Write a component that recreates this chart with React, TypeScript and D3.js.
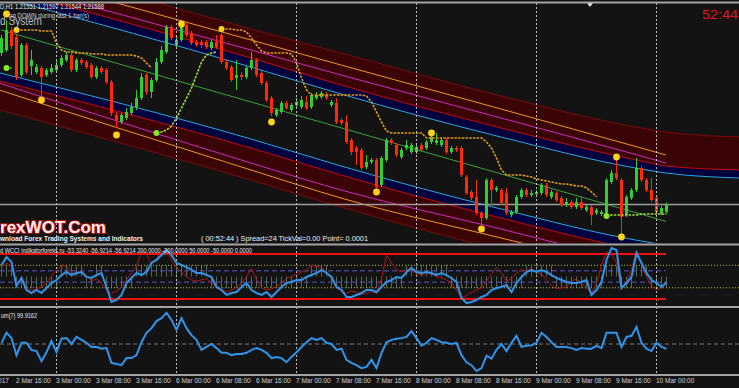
import React, { useEffect, useRef } from 'react';
import * as d3 from 'd3';

// H1 candles, bar 0 = 2 Mar 13:00, last bar = 10 Mar 02:00
const opens = [
  1.22345, 1.22360, 1.22460, 1.22425, 1.22235, 1.22385, 1.22280, 1.22250, 1.22270, 1.22235,
  1.22250, 1.22260, 1.22285, 1.22310, 1.22335, 1.22260, 1.22310, 1.22300, 1.22285, 1.22225,
  1.22270, 1.22260, 1.22200, 1.22035, 1.22000, 1.22020, 1.22045, 1.22075, 1.22120, 1.22235,
  1.22150, 1.22210, 1.22300, 1.22350, 1.22475, 1.22385, 1.22410, 1.22485, 1.22445, 1.22400,
  1.22400, 1.22400, 1.22370, 1.22400, 1.22435, 1.22300, 1.22275, 1.22220, 1.22235, 1.22225,
  1.22270, 1.22310, 1.22245, 1.22195, 1.22120, 1.22035, 1.22050, 1.22095, 1.22060, 1.22085,
  1.22075, 1.22100, 1.22075, 1.22120, 1.22125, 1.22135, 1.22085, 1.22095, 1.22010, 1.22000,
  1.21910, 1.21870, 1.21860, 1.21775, 1.21800, 1.21810, 1.21685, 1.21810, 1.21910, 1.21885,
  1.21825, 1.21870, 1.21850, 1.21850, 1.21885, 1.21870, 1.21900, 1.21895, 1.21885, 1.21910,
  1.21850, 1.21870, 1.21870, 1.21725, 1.21650, 1.21625, 1.21545, 1.21520, 1.21710, 1.21660,
  1.21660, 1.21645, 1.21535, 1.21550, 1.21625, 1.21660, 1.21635, 1.21640, 1.21645, 1.21685,
  1.21625, 1.21645, 1.21620, 1.21585, 1.21600, 1.21575, 1.21600, 1.21560, 1.21575, 1.21545,
  1.21540, 1.21545, 1.21700, 1.21745, 1.21710, 1.21535, 1.21620, 1.21660, 1.21770, 1.21710,
  1.21660, 1.21620, 1.21545, 1.21551,
];
const highs = [
  1.22435, 1.22510, 1.22475, 1.22435, 1.22395, 1.22395, 1.22360, 1.22290, 1.22280, 1.22270,
  1.22290, 1.22310, 1.22335, 1.22350, 1.22345, 1.22320, 1.22320, 1.22310, 1.22295, 1.22280,
  1.22280, 1.22270, 1.22210, 1.22050, 1.22045, 1.22070, 1.22095, 1.22160, 1.22245, 1.22245,
  1.22220, 1.22320, 1.22380, 1.22485, 1.22485, 1.22425, 1.22495, 1.22495, 1.22455, 1.22410,
  1.22410, 1.22410, 1.22410, 1.22435, 1.22445, 1.22310, 1.22285, 1.22310, 1.22250, 1.22280,
  1.22350, 1.22320, 1.22255, 1.22205, 1.22130, 1.22070, 1.22105, 1.22105, 1.22095, 1.22120,
  1.22130, 1.22130, 1.22145, 1.22150, 1.22155, 1.22150, 1.22110, 1.22120, 1.22020, 1.22035,
  1.21920, 1.21880, 1.21870, 1.21835, 1.21820, 1.21820, 1.21830, 1.21920, 1.21920, 1.21895,
  1.21870, 1.21910, 1.21895, 1.21885, 1.21895, 1.21910, 1.21935, 1.21945, 1.21920, 1.21920,
  1.21880, 1.21880, 1.21880, 1.21735, 1.21660, 1.21710, 1.21555, 1.21720, 1.21720, 1.21680,
  1.21670, 1.21670, 1.21560, 1.21635, 1.21670, 1.21670, 1.21660, 1.21660, 1.21695, 1.21695,
  1.21660, 1.21655, 1.21630, 1.21620, 1.21610, 1.21620, 1.21630, 1.21585, 1.21585, 1.21570,
  1.21560, 1.21720, 1.21760, 1.21810, 1.21720, 1.21635, 1.21670, 1.21820, 1.21780, 1.21720,
  1.21720, 1.21630, 1.21580, 1.21597,
];
const lows = [
  1.22330, 1.22350, 1.22365, 1.22210, 1.22225, 1.22240, 1.22235, 1.22240, 1.22130, 1.22225,
  1.22240, 1.22250, 1.22275, 1.22300, 1.22250, 1.22250, 1.22285, 1.22265, 1.22215, 1.22215,
  1.22240, 1.22190, 1.22030, 1.21970, 1.21990, 1.22010, 1.22035, 1.22060, 1.22110, 1.22135,
  1.22120, 1.22200, 1.22290, 1.22340, 1.22410, 1.22375, 1.22400, 1.22425, 1.22385, 1.22375,
  1.22370, 1.22365, 1.22360, 1.22365, 1.22290, 1.22260, 1.22200, 1.22160, 1.22210, 1.22215,
  1.22260, 1.22225, 1.22185, 1.22100, 1.22030, 1.22025, 1.22040, 1.22060, 1.22050, 1.22075,
  1.22065, 1.22060, 1.22065, 1.22110, 1.22115, 1.22110, 1.22075, 1.21990, 1.21985, 1.21890,
  1.21835, 1.21785, 1.21760, 1.21765, 1.21790, 1.21660, 1.21675, 1.21800, 1.21885, 1.21825,
  1.21815, 1.21860, 1.21840, 1.21840, 1.21850, 1.21860, 1.21890, 1.21885, 1.21875, 1.21840,
  1.21840, 1.21850, 1.21725, 1.21635, 1.21610, 1.21535, 1.21485, 1.21510, 1.21585, 1.21650,
  1.21585, 1.21535, 1.21525, 1.21540, 1.21615, 1.21625, 1.21625, 1.21630, 1.21635, 1.21625,
  1.21615, 1.21600, 1.21575, 1.21575, 1.21565, 1.21565, 1.21560, 1.21550, 1.21485, 1.21535,
  1.21530, 1.21535, 1.21690, 1.21710, 1.21435, 1.21525, 1.21610, 1.21650, 1.21700, 1.21650,
  1.21600, 1.21540, 1.21535, 1.21544,
];
const closes = [
  1.22420, 1.22460, 1.22380, 1.22225, 1.22385, 1.22250, 1.22310, 1.22275, 1.22225, 1.22260,
  1.22270, 1.22285, 1.22320, 1.22335, 1.22260, 1.22310, 1.22295, 1.22275, 1.22225, 1.22270,
  1.22250, 1.22200, 1.22045, 1.22010, 1.22035, 1.22050, 1.22075, 1.22120, 1.22225, 1.22150,
  1.22210, 1.22300, 1.22360, 1.22475, 1.22420, 1.22410, 1.22485, 1.22435, 1.22395, 1.22385,
  1.22385, 1.22375, 1.22400, 1.22375, 1.22300, 1.22270, 1.22210, 1.22235, 1.22225, 1.22270,
  1.22310, 1.22235, 1.22195, 1.22110, 1.22045, 1.22060, 1.22095, 1.22070, 1.22085, 1.22100,
  1.22110, 1.22070, 1.22135, 1.22135, 1.22145, 1.22120, 1.22100, 1.22000, 1.21995, 1.21900,
  1.21850, 1.21850, 1.21770, 1.21800, 1.21810, 1.21675, 1.21820, 1.21910, 1.21895, 1.21835,
  1.21860, 1.21885, 1.21885, 1.21875, 1.21860, 1.21900, 1.21925, 1.21910, 1.21910, 1.21850,
  1.21870, 1.21860, 1.21735, 1.21645, 1.21620, 1.21545, 1.21520, 1.21710, 1.21660, 1.21670,
  1.21595, 1.21545, 1.21550, 1.21625, 1.21660, 1.21635, 1.21645, 1.21650, 1.21685, 1.21635,
  1.21650, 1.21610, 1.21585, 1.21600, 1.21575, 1.21600, 1.21570, 1.21575, 1.21535, 1.21560,
  1.21550, 1.21710, 1.21745, 1.21720, 1.21525, 1.21625, 1.21660, 1.21770, 1.21710, 1.21660,
  1.21610, 1.21550, 1.21570, 1.21588,
];

// channel (bar index -> price)
const channelBars = [-1, 50, 68, 100, 128, 133, 148];
const upperEdge = [1.22835, 1.22465, 1.22345, 1.22130, 1.21970, 1.21950, 1.21925];
const upperRed = [1.22675, 1.22320, 1.22185, 1.21970, 1.21805, 1.21780, 1.21760];
const upperCyan = [1.22630, 1.22275, 1.22140, 1.21925, 1.21765, 1.21745, 1.21720];
const lowerCyan = [1.22250, 1.21915, 1.21780, 1.21565, 1.21405, 1.21385, 1.21360];
const lowerRed = [1.22210, 1.21870, 1.21735, 1.21520, 1.21360, 1.21340, 1.21315];
const lowerEdge = [1.22065, 1.21710, 1.21575, 1.21360, 1.21200, 1.21180, 1.21155];
const devBars = [-1, 50, 68, 100, 128, 133];
const upperMagenta = [1.22705, 1.22360, 1.22235, 1.22020, 1.21830, 1.21795];
const upperOrange = [1.22760, 1.22410, 1.22285, 1.22065, 1.21870, 1.21835];
const lowerMagenta = [1.22200, 1.21795, 1.21660, 1.21465, 1.21290, 1.21260];
const lowerOrange = [1.22165, 1.21760, 1.21620, 1.21420, 1.21250, 1.21220];
const regBars = [0, 133];
const regLine = [1.22460, 1.21503];

// trailing stop segments
const downStop1Start = 3;
const downStop1 = [
  1.2246, 1.2246, 1.2246, 1.2246, 1.2246, 1.22455, 1.22455, 1.22455, 1.22395, 1.2236,
  1.2235, 1.2235, 1.22345, 1.22345, 1.22345, 1.2234, 1.2234, 1.2234, 1.22335, 1.22335,
  1.22335, 1.22335, 1.22335, 1.22335, 1.2233, 1.2232, 1.22295, 1.2227,
];
const downStop2Start = 44;
const downStop2 = [
  1.22465, 1.22465, 1.22465, 1.2246, 1.2246, 1.2245, 1.2242, 1.22385, 1.22355, 1.22345,
  1.22345, 1.22345, 1.22345, 1.22345, 1.2234, 1.22295, 1.2222, 1.2216, 1.22135, 1.22135,
  1.22135, 1.22135, 1.22135, 1.22135, 1.22135, 1.22135, 1.22135, 1.22135, 1.22135, 1.2213,
  1.221, 1.2205, 1.22, 1.21955, 1.21945, 1.21945, 1.21945, 1.21945, 1.21945, 1.21945,
  1.21945, 1.2192, 1.2192, 1.2192, 1.2192, 1.2192, 1.2192, 1.2192, 1.2192, 1.2192,
  1.2192, 1.2192, 1.2192, 1.219, 1.2187, 1.2182, 1.2176, 1.21735, 1.21735, 1.21735,
  1.21735, 1.2173, 1.21725, 1.21715, 1.2171, 1.21705, 1.217, 1.21695, 1.2169, 1.2169,
  1.21685, 1.2168, 1.2168, 1.2167, 1.2165, 1.21625,
];
const upStop1Start = 1;
const upStop1 = [1.2227, 1.2227];
const upStop2Start = 31;
const upStop2 = [1.21945, 1.2195, 1.2196, 1.2198, 1.2202, 1.2207, 1.2212, 1.2217, 1.22235, 1.223, 1.22335, 1.22345, 1.2235];
const upStop3Start = 121;
const upStop3 = [1.2153, 1.21535, 1.21535, 1.21535, 1.21535, 1.21535, 1.21535, 1.2154, 1.2154, 1.2154, 1.2154, 1.2154, 1.2154];

// fractal dots
const fractalBars = [1, 8, 23, 36, 54, 75, 86, 96, 123, 124];
const fractalPrices = [1.2254, 1.2211, 1.21935, 1.2249, 1.22, 1.2165, 1.21945, 1.21465, 1.21825, 1.21425];

// WCCI panel
const cciMain = [
  102, 173, 129, -84, -13, -120, -147, -120, -147, -102,
  -58, -31, 13, 40, 13, 31, 40, -4, -13, 13,
  31, -93, -227, -209, -164, -58, -13, 31, 13, 40,
  120, 147, 191, 236, 191, 120, 102, 84, 58, 31,
  31, 13, -4, -93, -120, -164, -147, -138, -93, -58,
  -120, -147, -164, -138, -182, -138, -93, -58, -49, -31,
  -31, -4, 13, 31, 58, 31, -4, -93, -120, -182,
  -182, -164, -147, -120, -120, -138, -93, -49, -31, -4,
  -13, 40, 76, 40, 31, 40, 31, 13, 31, 13,
  -13, -49, -191, -236, -227, -209, -182, -164, -120, -102,
  -93, -76, -138, -58, -4, 40, 58, 40, 58, 40,
  13, -13, -31, -49, -58, -58, -49, -31, -164, -120,
  -49, 147, 253, 236, -102, -58, -4, 209, 120, 31,
  -31, -58, -93, -53.3,
];
const cciTurbo = [
  80, 120, 90, -60, -40, -100, -130, -110, -90, -60,
  10, 60, 100, 90, 40, 20, 50, 10, -40, -20,
  -60, -120, -150, -130, -90, -30, 30, 90, 230, 200,
  110, 160, 220, 240, 150, 80, 40, 0, -30, -40,
  -30, -20, -60, -100, -110, -140, -120, -100, -60, 0,
  70, -30, -100, -120, -110, -90, -60, -20, 0, 20,
  40, 60, 100, 90, 80, 40, -20, -100, -130, -150,
  -130, -140, -160, -150, -130, -150, -20, 190, 120, 60,
  40, 70, 50, 30, 10, 30, 20, 0, -10, -30,
  -60, -120, -190, -170, -140, -120, -100, -40, 20, 80,
  30, -40, -20, 30, 60, 50, 70, 40, 20, -30,
  -80, -110, -100, -90, -40, -20, -60, -100, -150, -60,
  100, 220, 200, 120, -120, -40, 60, 230, 110, 0,
  -80, -120, -100, -56.9,
];
const cciTrend = [
  1, 1, 1, -1, -1, -1, -1, -1, -1, -1,
  -1, -1, 1, 1, 1, 1, 1, -1, -1, 1,
  1, -1, -1, -1, -1, -1, -1, 1, 1, 1,
  1, 1, 1, 1, 1, 1, 1, 1, 1, 1,
  1, 1, -1, -1, -1, -1, -1, -1, -1, -1,
  -1, -1, -1, -1, -1, -1, -1, -1, -1, -1,
  -1, -1, 1, 1, 1, 1, -1, -1, -1, -1,
  -1, -1, -1, -1, -1, -1, -1, -1, -1, -1,
  -1, 1, 1, 1, 1, 1, 1, 1, 1, 1,
  -1, -1, -1, -1, -1, -1, -1, -1, -1, -1,
  -1, -1, -1, -1, -1, 1, 1, 1, 1, 1,
  1, -1, -1, -1, -1, -1, -1, -1, -1, -1,
  -1, 1, 1, 1, -1, -1, -1, 1, 1, 1,
  -1, -1, -1, -1,
];

// Momentum(7)
const momentum = [
  100.02, 100.19, 100.10, 99.81, 100.02, 100.02, 99.90, 99.88, 99.71, 99.86,
  100.05, 99.86, 100.09, 100.10, 100.00, 100.12, 100.07, 100.02, 99.95, 99.95,
  99.92, 99.93, 99.68, 99.66, 99.64, 99.76, 99.76, 99.81, 100.03, 100.19,
  100.27, 100.39, 100.44, 100.53, 100.41, 100.24, 100.44, 100.27, 100.15, 100.07,
  99.90, 99.95, 100.00, 99.93, 99.85, 99.85, 99.81, 99.83, 99.83, 99.85,
  99.90, 99.93, 99.90, 99.85, 99.76, 99.78, 99.76, 99.69, 99.78, 99.86,
  99.95, 100.03, 100.10, 100.07, 100.10, 100.02, 100.00, 99.90, 99.92, 99.73,
  99.68, 99.64, 99.59, 99.61, 99.73, 99.59, 99.85, 100.03, 100.07, 100.09,
  100.10, 100.12, 100.22, 100.10, 99.97, 100.02, 100.10, 100.07, 100.03, 100.02,
  100.00, 100.02, 99.81, 99.69, 99.64, 99.54, 99.59, 99.80, 99.75, 99.90,
  100.00, 99.88, 100.02, 100.14, 99.95, 99.97, 99.98, 100.02, 100.19, 100.12,
  100.03, 99.95, 99.95, 99.95, 99.93, 99.90, 99.93, 99.92, 99.92, 99.97,
  99.93, 100.19, 100.19, 100.19, 99.95, 100.12, 100.14, 100.29, 100.02, 99.92,
  99.88, 100.02, 99.95, 99.9162,
];

// time axis
const dayBars = [11, 35, 59, 83, 107, 131];
const timeLabelBars = [-5, 3, 11, 19, 27, 35, 43, 51, 59, 67, 75, 83, 91, 99, 107, 115, 123, 131];
const timeLabels = [
  '2 Mar 2017', '2 Mar 16:00', '3 Mar 00:00', '3 Mar 08:00', '3 Mar 16:00', '6 Mar 00:00',
  '6 Mar 08:00', '6 Mar 16:00', '7 Mar 00:00', '7 Mar 08:00', '7 Mar 16:00', '8 Mar 00:00',
  '8 Mar 08:00', '8 Mar 16:00', '9 Mar 00:00', '9 Mar 08:00', '9 Mar 16:00', '10 Mar 00:00',
];

const App = () => {
  const svgRef = useRef<SVGSVGElement | null>(null);

  useEffect(() => {
    const width = 739;
    const height = 388;
    const font = "'Liberation Sans', Arial, sans-serif";
    const svg = d3.select(svgRef.current);
    svg.selectAll('*').remove();

    const last = closes.length - 1;
    const x = d3.scaleLinear().domain([0, last]).range([1, 666]);
    const yMain = d3.scaleLinear().domain([1.21395, 1.2261]).range([243, 0]);
    const yCci = d3.scaleLinear().domain([-200, 200]).range([299, 254]);
    const yMom = d3.scaleLinear().domain([99.5, 100.5]).range([373.4, 314.6]);

    svg.append('rect').attr('width', width).attr('height', height).attr('fill', '#131313');

    const defs = svg.append('defs');
    const addClip = (id: string, y0: number, y1: number) =>
      defs.append('clipPath').attr('id', id).append('rect')
        .attr('x', 0).attr('y', y0).attr('width', width).attr('height', y1 - y0);
    addClip('clip-main', 3, 243);
    addClip('clip-cci', 246, 306);
    addClip('clip-mom', 308, 374);

    // ---------- main panel ----------
    const main = svg.append('g').attr('clip-path', 'url(#clip-main)');

    const band = (top: number[], bottom: number[], fill: string) => {
      const area = d3.area<number>()
        .x((d, i) => x(channelBars[i]))
        .y0((d, i) => yMain(bottom[i]))
        .y1(d => yMain(d))
        .curve(d3.curveMonotoneX);
      main.append('path').attr('d', area(top)).attr('fill', fill);
    };
    band(upperEdge, upperRed, '#3b0404');
    band(upperRed, upperCyan, '#00003f');
    band(lowerCyan, lowerRed, '#00003f');
    band(lowerRed, lowerEdge, '#3b0404');

    const curve = (bars: number[], vals: number[], color: string, w = 1) => {
      const line = d3.line<number>()
        .x((d, i) => x(bars[i]))
        .y(d => yMain(d))
        .curve(d3.curveMonotoneX);
      main.append('path').attr('d', line(vals)).attr('fill', 'none')
        .attr('stroke', color).attr('stroke-width', w);
    };
    curve(channelBars, upperEdge, '#7a0a0a');
    curve(channelBars, lowerEdge, '#7a0a0a');
    curve(channelBars, upperRed, '#c80808');
    curve(channelBars, lowerRed, '#c80808');
    curve(devBars, upperMagenta, '#c82cc8');
    curve(devBars, lowerMagenta, '#c82cc8');
    curve(devBars, upperOrange, '#eb9a22');
    curve(devBars, lowerOrange, '#eb9a22');
    curve(channelBars, upperCyan, '#2ea6de');
    curve(channelBars, lowerCyan, '#2ea6de');
    curve(regBars, regLine, '#36a336');

    // day separators
    svg.append('g').selectAll('line').data(dayBars).join('line')
      .attr('x1', d => x(d) + 0.5).attr('x2', d => x(d) + 0.5)
      .attr('y1', 3).attr('y2', 374)
      .attr('stroke', '#bdbdbd').attr('stroke-width', 1).attr('stroke-dasharray', '2,2');

    // bid line
    main.append('line').attr('x1', 0).attr('x2', width)
      .attr('y1', yMain(closes[last])).attr('y2', yMain(closes[last]))
      .attr('stroke', '#9c9c9c').attr('stroke-width', 1.5);

    // candles
    const idx = d3.range(closes.length);
    const colorOf = (i: number) => (closes[i] >= opens[i] ? '#2fcf2f' : '#ff2a0a');
    main.append('g').selectAll('line').data(idx).join('line')
      .attr('x1', i => x(i) + 0.5).attr('x2', i => x(i) + 0.5)
      .attr('y1', i => yMain(highs[i])).attr('y2', i => yMain(lows[i]))
      .attr('stroke', colorOf).attr('stroke-width', 1);
    main.append('g').selectAll('rect').data(idx).join('rect')
      .attr('x', i => x(i) - 1).attr('width', 3)
      .attr('y', i => yMain(Math.max(opens[i], closes[i])))
      .attr('height', i => Math.max(1, Math.abs(yMain(opens[i]) - yMain(closes[i]))))
      .attr('fill', colorOf);

    // trailing stops
    const stop = (start: number, vals: number[], color: string, dot: string) => {
      const line = d3.line<number>().x((d, i) => x(start + i) + 0.5).y(d => yMain(d));
      main.append('path').attr('d', line(vals)).attr('fill', 'none')
        .attr('stroke', color).attr('stroke-width', 1.6).attr('stroke-dasharray', '2.5,1.2');
      main.append('circle').attr('cx', x(start) + 0.5).attr('cy', yMain(vals[0]))
        .attr('r', 3).attr('fill', dot);
    };
    stop(downStop1Start, downStop1, '#e09a1c', '#ffd21a');
    stop(downStop2Start, downStop2, '#e09a1c', '#ffd21a');
    stop(upStop1Start, upStop1, '#9fd83a', '#86e62a');
    stop(upStop2Start, upStop2, '#9fd83a', '#86e62a');
    stop(upStop3Start, upStop3, '#9fd83a', '#86e62a');

    main.append('g').selectAll('circle').data(fractalBars).join('circle')
      .attr('cx', b => x(b) + 0.5).attr('cy', (b, i) => yMain(fractalPrices[i]))
      .attr('r', 3.4).attr('fill', '#ffd21a');

    // main panel texts
    const text = (tx: number, ty: number, s: string, size: number, fill: string, len?: number, weight = 'normal') => {
      const t = svg.append('text').attr('x', tx).attr('y', ty).text(s)
        .attr('font-family', font).attr('font-size', size).attr('fill', fill)
        .attr('font-weight', weight);
      if (len) t.attr('textLength', len).attr('lengthAdjust', 'spacingAndGlyphs');
      return t;
    };
    text(0, 9, 'D,H1  1.21551 1.21597 1.21544 1.21588', 6.5, '#e8e8e8', 104);
    text(9, 18, 'ng DOWN during last 1 bar(s)', 6.5, '#cfcfcf', 80);
    text(0, 25, 'd System', 12, '#c9c9c9', 42).attr('opacity', 0.9);
    text(702, 19, '52:44', 13.5, '#e41414', 36);
    text(0, 233, 'rexWOT.Com', 16, '#ffe8e8', 106, 'bold')
      .attr('stroke', '#d81010').attr('stroke-width', 1.4).attr('paint-order', 'stroke');
    text(0, 241, 'wnload Forex Trading Systems and Indicators', 6.5, '#f0f0f0', 143, 'bold');
    text(201, 241, '( 00:52:44 )  Spread=24  TickVal=0.00  Point= 0.0001', 6.5, '#f0f0f0', 167);

    // shift marker
    const sx = x(117.8);
    svg.append('path').attr('d', `M${sx - 3},3 L${sx + 3},3 L${sx},7 Z`).attr('fill', '#e6e6e6');

    // ---------- WCCI panel ----------
    const cci = svg.append('g').attr('clip-path', 'url(#clip-cci)');
    cci.append('g').selectAll('line').data(idx).join('line')
      .attr('x1', i => x(i) + 0.5).attr('x2', i => x(i) + 0.5)
      .attr('y1', yCci(0)).attr('y2', i => yCci(cciTrend[i] * 100))
      .attr('stroke', '#7ea27e').attr('stroke-width', 1).attr('opacity', 0.6);
    [100, -100].forEach(v => {
      cci.append('line').attr('x1', 0).attr('x2', width).attr('y1', yCci(v)).attr('y2', yCci(v))
        .attr('stroke', '#c2c21a').attr('stroke-dasharray', '1,2');
    });
    [50, -50].forEach(v => {
      cci.append('line').attr('x1', 0).attr('x2', x(last)).attr('y1', yCci(v)).attr('y2', yCci(v))
        .attr('stroke', '#5757b4').attr('stroke-dasharray', '5,3');
    });
    [200, -200].forEach(v => {
      cci.append('line').attr('x1', 0).attr('x2', x(last)).attr('y1', yCci(v)).attr('y2', yCci(v))
        .attr('stroke', '#f01010').attr('stroke-width', 2);
    });
    const cciLine = d3.line<number>().x((d, i) => x(i) + 0.5).y(d => yCci(d));
    cci.append('path').attr('d', cciLine(cciTurbo)).attr('fill', 'none')
      .attr('stroke', '#b41414').attr('stroke-width', 1);
    cci.append('path').attr('d', cciLine(cciMain)).attr('fill', 'none')
      .attr('stroke', '#2f94ea').attr('stroke-width', 2);
    text(0, 253, 'd WCCI indikatorforeks.ru -53.3240 -56.9214 -56.9214 200.0000 -200.0000 50.0000 -50.0000 0.0000', 6.5, '#e8e8e8', 252);

    // ---------- Momentum panel ----------
    const mom = svg.append('g').attr('clip-path', 'url(#clip-mom)');
    mom.append('line').attr('x1', 0).attr('x2', width).attr('y1', yMom(100)).attr('y2', yMom(100))
      .attr('stroke', '#7c7c7c').attr('stroke-dasharray', '4,3');
    const momLine = d3.line<number>().x((d, i) => x(i) + 0.5).y(d => yMom(d));
    mom.append('path').attr('d', momLine(momentum)).attr('fill', 'none')
      .attr('stroke', '#2f94ea').attr('stroke-width', 2);
    text(1, 318, 'um(7) 99.9162', 6.5, '#e8e8e8', 36);

    // separators
    [1.5, 243.5, 306, 374].forEach(y0 => {
      svg.append('rect').attr('x', 0).attr('y', y0).attr('width', width).attr('height', 2).attr('fill', '#a3a3a3');
    });

    // time labels
    svg.append('g').selectAll('text').data(timeLabels).join('text')
      .attr('x', (d, i) => x(timeLabelBars[i]))
      .attr('y', 383)
      .attr('font-family', font).attr('font-size', 6.5).attr('fill', '#d4d4d4')
      .text(d => d);
  }, []);

  return (
    <svg
      ref={svgRef}
      width={739}
      height={388}
      style={{ position: 'fixed', left: 0, top: 0, display: 'block' }}
    />
  );
};

export default App;
